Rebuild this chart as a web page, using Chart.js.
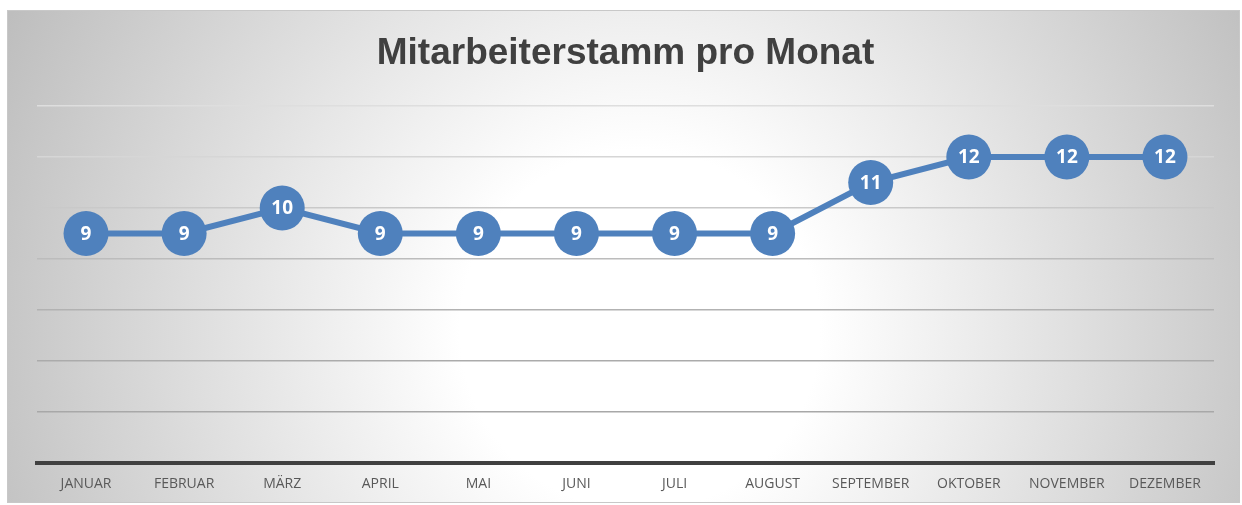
<!DOCTYPE html>
<html>
<head>
<meta charset="utf-8">
<script src="https://cdn.jsdelivr.net/npm/chart.js@4"></script>
<style>
html,body{margin:0;padding:0;background:#fff;}
#wrap{width:1242px;height:505px;position:relative;}
</style>
</head>
<body>
<div id="wrap"><canvas id="c" width="1242" height="505"></canvas></div>
<script>
const months = ['JANUAR','FEBRUAR','MÄRZ','APRIL','MAI','JUNI','JULI','AUGUST','SEPTEMBER','OKTOBER','NOVEMBER','DEZEMBER'];
const staff = [9,9,10,9,9,9,9,9,11,12,12,12];
const titleText = 'Mitarbeiterstamm pro Monat';
const yMin = 0, yMax = 14, yStep = 2;

const bgPlugin = {
  id: 'bg',
  beforeDraw(chart) {
    const ctx = chart.ctx;
    const x0 = 7, y0 = 10, x1 = 1240, y1 = 503;
    ctx.save();
    const g = ctx.createRadialGradient(640, 330, 0, 640, 330, 720);
    g.addColorStop(0, '#ffffff');
    g.addColorStop(0.25, '#ffffff');
    g.addColorStop(1, '#bcbcbc');
    ctx.fillStyle = g;
    ctx.fillRect(x0, y0, x1 - x0, y1 - y0);
    ctx.strokeStyle = '#c8c8c8';
    ctx.lineWidth = 1;
    ctx.strokeRect(x0 + 0.5, y0 + 0.5, x1 - x0 - 1, y1 - y0 - 1);
    ctx.restore();
  }
};

const labelPlugin = {
  id: 'vals',
  afterDatasetsDraw(chart) {
    const ctx = chart.ctx;
    const meta = chart.getDatasetMeta(0);
    ctx.save();
    ctx.fillStyle = '#ffffff';
    ctx.font = 'bold 19px "Open Sans", "Liberation Sans", sans-serif';
    ctx.textAlign = 'center';
    ctx.textBaseline = 'middle';
    meta.data.forEach((pt, i) => {
      ctx.fillText(String(chart.data.datasets[0].data[i]), pt.x, pt.y + 1);
    });
    ctx.restore();
  }
};

const gridColors = {14:'#dedede',12:'#d6d6d6',10:'#c9c9c9',8:'#bcbcbc',6:'#b2b2b2',4:'#ababab',2:'#a8a8a8',0:'rgba(0,0,0,0)'};

new Chart(document.getElementById('c'), {
  type: 'line',
  data: {
    labels: months,
    datasets: [{
      data: staff,
      borderColor: '#4f81bd',
      backgroundColor: '#4f81bd',
      borderWidth: 6,
      pointRadius: 22.5,
      pointHoverRadius: 22.5,
      pointBackgroundColor: '#4f81bd',
      pointBorderColor: '#4f81bd',
      pointBorderWidth: 0,
      tension: 0,
      clip: false
    }]
  },
  options: {
    responsive: false,
    animation: false,
    devicePixelRatio: 1,
    layout: { padding: { top: 12, left: 37, right: 28, bottom: 0 } },
    plugins: {
      legend: { display: false },
      tooltip: { enabled: false },
      title: {
        display: true,
        text: titleText,
        color: '#404040',
        font: { family: '"Liberation Sans", Arial, sans-serif', size: 37, weight: 'bold', lineHeight: 1.2 },
        padding: { top: 20, bottom: 29.6 }
      }
    },
    scales: {
      x: {
        offset: true,
        grid: { display: false, drawTicks: false },
        border: { display: true, color: '#404040', width: 4 },
        ticks: { color: '#595959', font: { family: '"Open Sans", "Liberation Sans", sans-serif', size: 14, lineHeight: 1 }, padding: 14, maxRotation: 0, autoSkip: false }
      },
      y: {
        min: yMin, max: yMax,
        ticks: { display: false, stepSize: yStep },
        grid: { drawTicks: false, lineWidth: 1.5, color: (c) => gridColors[c.tick.value] || '#b0b0b0' },
        border: { display: false }
      }
    }
  },
  plugins: [bgPlugin, labelPlugin]
});
</script>
</body>
</html>
